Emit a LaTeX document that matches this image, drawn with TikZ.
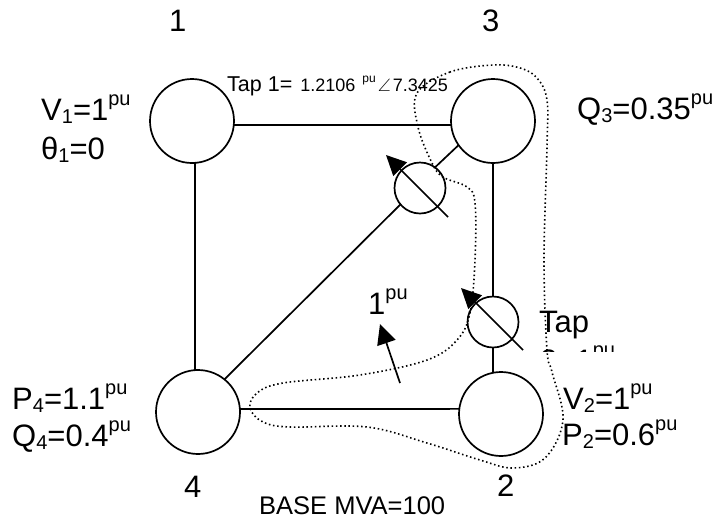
\documentclass[tikz,border=0pt]{standalone}
\usepackage{amssymb}
\usepackage{fontspec}
\setmainfont{Liberation Sans}
\usetikzlibrary{arrows.meta}
\newcommand{\pusup}[1][pu]{\raisebox{0.48em}{\fontsize{20}{20}\selectfont #1}}
\newcommand{\busub}[1]{\raisebox{-0.11em}{\fontsize{20}{20}\selectfont #1}}
\tikzset{
  bus/.style={circle,draw,line width=1.7pt,minimum size=84pt,inner sep=0pt,outer sep=0pt},
  tapring/.style={circle,draw,line width=1.7pt,minimum size=51pt,inner sep=0pt,outer sep=0pt},
  wire/.style={line width=1.7pt},
  arr/.style={-{Triangle[length=20pt,width=19pt]},line width=1.7pt},
  lbl/.style={anchor=base west,inner sep=0pt,font=\fontsize{31}{31}\selectfont},
  cutset/.style={line width=1.6pt,dash pattern=on 1.5pt off 2.7pt}
}

\begin{document}
\begin{tikzpicture}[x=1pt,y=-1pt]
  \useasboundingbox (0,0) rectangle (720,523);
  % buses and taps
  \foreach \name/\x/\y in {busone/192/121,busthree/493/121,bustwo/501/414,busfour/198/412}
    \node[bus] (\name) at (\x,\y) {};
  \node[tapring] (tapone) at (420,188) {};
  \node[tapring] (taptwo) at (493,322) {};
  % lines
  \draw[wire] (busone.-5) -- (busthree.185);
  \draw[wire] (busone.-86) -- (busfour.94);
  \draw[wire] (busfour.4) -- (bustwo.173);
  \draw[wire] (busfour.51) -- (tapone.220);
  \draw[wire] (tapone.54) -- (busthree.215);
  \draw[wire] (busthree.south) -- (taptwo.north);
  \draw[wire] (taptwo.south) -- (bustwo.101);
  % tap arrows
  \coordinate (taponeend) at (448,217);
  \coordinate (taponetip) at (386,155);
  \coordinate (taptwoend) at (523,350);
  \coordinate (taptwotip) at (461,288);
  \coordinate (flowend) at (400,383);
  \coordinate (flowtip) at (380,324);
  \draw[arr] (taponeend) -- (taponetip);
  \draw[arr] (taptwoend) -- (taptwotip);
  \draw[arr] (flowend) -- (flowtip);
  % labels
  \node[lbl] (numone) at (169,31) {1};
  \node[lbl] (numthree) at (482,31) {3};
  \node[lbl] (numfour) at (184,497) {4};
  \node[lbl] (numtwo) at (497,496) {2};
  \node[lbl] (vone) at (41,120) {V\busub{1}=1\pusup};
  \node[lbl] (thone) at (41,159) {θ\busub{1}=0};
  \node[lbl] (qthree) at (577,119) {Q\busub{3}=0.35\pusup};
  \node[lbl] (flow) at (368,314) {1\pusup};
  \node[lbl] (pfour) at (12,409) {P\busub{4}=1.1\pusup};
  \node[lbl] (qfour) at (12,446) {Q\busub{4}=0.4\pusup};
  \node[lbl] (vtwo) at (563,409) {V\busub{2}=1\pusup};
  \node[lbl] (ptwo) at (562,445) {P\busub{2}=0.6\pusup};
  \node[lbl,font=\fontsize{25.5}{25.5}\selectfont] (base) at (259,514) {BASE MVA=100};
  \node[lbl,font=\fontsize{21.5}{21.5}\selectfont] (tapa) at (227,91)
    {Tap 1={\fontsize{18}{18}\selectfont\hspace{3pt} 1.2106\hspace{2pt} \raisebox{0.5em}{\fontsize{12}{12}\selectfont pu}\hspace{2pt}$\angle$\hspace{2pt}7.3425}};
  % second tap, cut off by its frame
  \begin{scope}
    \clip (530,300) rectangle (625,351);
    \node[lbl] (tapb) at (539,332) {Tap};
    \node[lbl] (tapc) at (540,371) {2=1\pusup};
  \end{scope}
  % cut set
  \draw[cutset] plot[smooth cycle,tension=0.6] coordinates {
    (493,65) (450,72) (417,93) (418,127) (432,163) (443,177) (467,187) (475,203)
    (475,260) (470,313) (457,340) (427,360) (360,375) (283,383) (257,393) (250,408)
    (263,422) (290,427) (367,427) (427,443) (480,460) (513,468) (545,458) (563,420)
    (552,372) (547,350) (544,260) (547,147) (547,100) (537,78) (520,68)};
\end{tikzpicture}
\end{document}
